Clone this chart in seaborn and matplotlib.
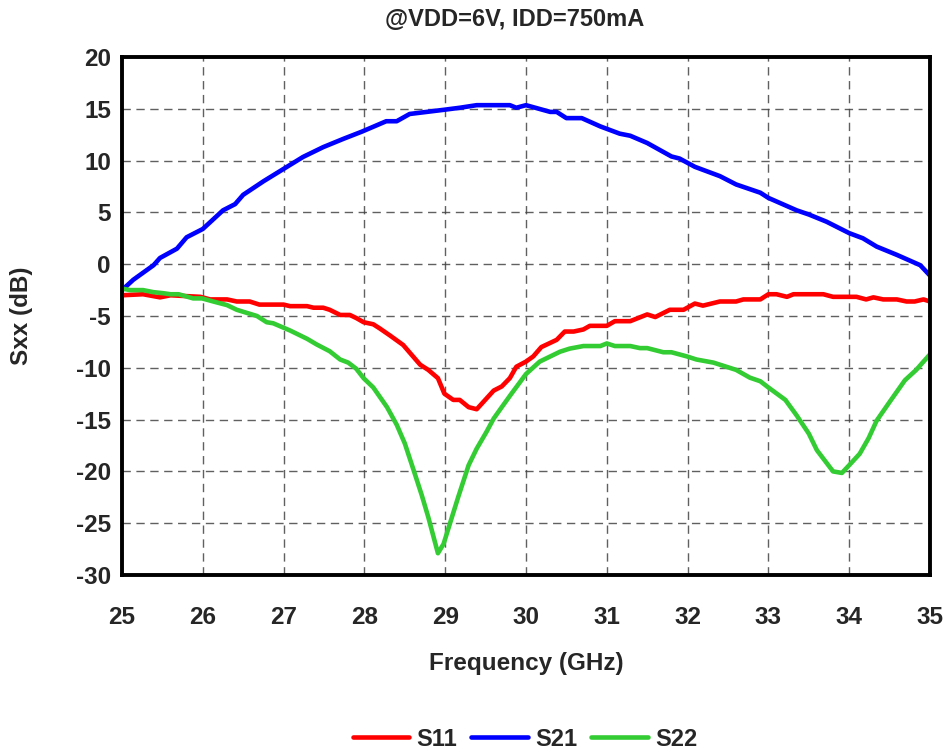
import numpy as np
import pandas as pd
import matplotlib
matplotlib.use("Agg")
import matplotlib.pyplot as plt
import seaborn as sns

title = "@VDD=6V, IDD=750mA"
series_names = ["S11", "S21", "S22"]
series_colors = ["#FF0000", "#0000FF", "#33CC33"]

s21_f = [25.0, 25.14, 25.39, 25.47, 25.68, 25.8, 26.0, 26.25, 26.4, 26.5, 26.75, 27.0, 27.24, 27.49,
         27.74, 27.97, 28.27, 28.4, 28.56, 28.98, 29.18, 29.39, 29.8, 29.88, 30.0, 30.3, 30.38, 30.5,
         30.69, 30.92, 31.16, 31.29, 31.5, 31.8, 31.9, 32.09, 32.4, 32.6, 32.9, 33.0, 33.35, 33.5,
         33.72, 34.0, 34.17, 34.34, 34.59, 34.88, 35.0]
s21_db = [-2.5, -1.5, -0.1, 0.6, 1.5, 2.6, 3.4, 5.2, 5.8, 6.7, 8.0, 9.2, 10.35, 11.3,
          12.1, 12.8, 13.8, 13.8, 14.5, 14.9, 15.1, 15.35, 15.35, 15.1, 15.35, 14.7, 14.7, 14.1,
          14.1, 13.3, 12.6, 12.4, 11.7, 10.4, 10.2, 9.4, 8.5, 7.7, 6.9, 6.4, 5.2, 4.8,
          4.1, 3.0, 2.5, 1.7, 0.9, -0.1, -1.1]

s11_f = [25.0, 25.26, 25.47, 25.6, 25.97, 26.09, 26.3, 26.42, 26.58, 26.7, 27.0, 27.08, 27.29, 27.37,
         27.49, 27.57, 27.7, 27.82, 27.9, 27.99, 28.11, 28.19, 28.32, 28.48, 28.69, 28.79, 28.91, 28.99,
         29.1, 29.18, 29.29, 29.39, 29.6, 29.7, 29.8, 29.88, 30.0, 30.09, 30.19, 30.38, 30.48, 30.59,
         30.71, 30.79, 31.0, 31.1, 31.29, 31.5, 31.6, 31.78, 31.95, 32.09, 32.19, 32.4, 32.6, 32.69,
         32.9, 33.0, 33.1, 33.23, 33.31, 33.68, 33.8, 34.09, 34.21, 34.3, 34.42, 34.59, 34.71, 34.81,
         34.92, 35.0]
s11_db = [-3.0, -2.9, -3.2, -3.0, -3.15, -3.4, -3.4, -3.6, -3.6, -3.9, -3.9, -4.05, -4.05, -4.2,
          -4.2, -4.4, -4.9, -4.9, -5.2, -5.6, -5.8, -6.2, -6.9, -7.8, -9.7, -10.2, -11.0, -12.5,
          -13.1, -13.1, -13.8, -14.0, -12.2, -11.8, -11.0, -9.9, -9.4, -8.9, -8.0, -7.3, -6.5, -6.5,
          -6.3, -5.95, -5.95, -5.5, -5.5, -4.85, -5.1, -4.4, -4.4, -3.8, -4.0, -3.6, -3.6, -3.4,
          -3.4, -2.9, -2.9, -3.15, -2.9, -2.9, -3.15, -3.15, -3.4, -3.2, -3.4, -3.4, -3.6, -3.6,
          -3.4, -3.6]

s22_f = [25.0, 25.1, 25.26, 25.39, 25.51, 25.6, 25.7, 25.88, 25.99, 26.13, 26.3, 26.42, 26.67, 26.79,
         26.87, 27.08, 27.29, 27.41, 27.57, 27.7, 27.8, 27.9, 27.99, 28.11, 28.28, 28.4, 28.5, 28.61,
         28.71, 28.79, 28.91, 28.98, 29.06, 29.16, 29.29, 29.39, 29.51, 29.6, 29.7, 29.82, 30.0, 30.17,
         30.42, 30.54, 30.71, 30.92, 31.0, 31.1, 31.29, 31.41, 31.5, 31.7, 31.8, 31.99, 32.11, 32.32,
         32.6, 32.77, 32.9, 33.0, 33.21, 33.35, 33.5, 33.6, 33.8, 33.91, 34.0, 34.13, 34.24, 34.34,
         34.5, 34.69, 34.83, 34.92, 35.0]
s22_db = [-2.35, -2.5, -2.5, -2.7, -2.8, -2.9, -2.9, -3.3, -3.3, -3.6, -3.95, -4.4, -5.0, -5.6,
          -5.7, -6.4, -7.2, -7.75, -8.4, -9.2, -9.5, -10.1, -11.0, -11.9, -13.8, -15.5, -17.3, -19.9,
          -22.3, -24.4, -27.9, -27.0, -25.0, -22.5, -19.4, -17.8, -16.2, -14.9, -13.8, -12.5, -10.6, -9.4,
          -8.45, -8.15, -7.9, -7.9, -7.65, -7.9, -7.9, -8.1, -8.1, -8.5, -8.5, -8.9, -9.2, -9.5,
          -10.2, -10.95, -11.3, -11.9, -13.1, -14.6, -16.35, -17.95, -20.0, -20.15, -19.4, -18.3, -16.8, -15.1,
          -13.3, -11.2, -10.2, -9.4, -8.7]

x_ticks = [25, 26, 27, 28, 29, 30, 31, 32, 33, 34, 35]
y_ticks = [-30, -25, -20, -15, -10, -5, 0, 5, 10, 15, 20]

df = pd.concat([
    pd.DataFrame({"Frequency": s11_f, "Sxx": s11_db, "Series": "S11"}),
    pd.DataFrame({"Frequency": s21_f, "Sxx": s21_db, "Series": "S21"}),
    pd.DataFrame({"Frequency": s22_f, "Sxx": s22_db, "Series": "S22"}),
], ignore_index=True)

sns.set_style("white")
plt.rcParams["font.family"] = ["Liberation Sans", "DejaVu Sans"]
plt.rcParams["font.weight"] = "bold"

fig = plt.figure(figsize=(9.48, 7.53), dpi=100)
ax = fig.add_axes([0.1287, 0.2364, 0.8523, 0.6879])

sns.lineplot(data=df, x="Frequency", y="Sxx", hue="Series", hue_order=series_names,
             palette=series_colors, linewidth=3.3, ax=ax, sort=False, estimator=None,
             legend=False)

ax.set_xlim(25, 35)
ax.set_ylim(-30, 20)
ax.set_xticks(x_ticks)
ax.set_yticks(y_ticks)
ax.set_xticklabels([str(t) for t in x_ticks], fontsize=17.5, fontweight="bold")
ax.set_yticklabels([str(t) for t in y_ticks], fontsize=17.5, fontweight="bold")
ax.tick_params(axis="both", direction="in", length=5, width=1, color="black")
ax.tick_params(axis="y", pad=8)
ax.tick_params(axis="x", pad=22)

ax.grid(True, color="#444444", linestyle=(0, (6, 4)), linewidth=1.0, alpha=0.85)
ax.set_axisbelow(True)
for s in ax.spines.values():
    s.set_visible(True)
    s.set_color("black")
    s.set_linewidth(2.8)

ax.set_xlabel("Frequency (GHz)", fontsize=17.5, fontweight="bold", va="center")
ax.xaxis.set_label_coords(0.5, -0.17)
ax.set_ylabel("Sxx (dB)", fontsize=17.5, fontweight="bold", va="center")
ax.yaxis.set_label_coords(-0.124, 0.5)
fig.text(515 / 948, 1 - 19 / 753, title, fontsize=17, fontweight="bold",
         ha="center", va="center")

handles = [plt.Line2D([0], [0], color=c, linewidth=3.3) for c in series_colors]
fig.legend(handles, series_names, loc="center", bbox_to_anchor=(525 / 948, 1 - 739 / 753), ncol=3,
           frameon=False, prop={"weight": "bold", "size": 17}, handlelength=2.4,
           handletextpad=0.3, columnspacing=0.6, borderpad=0, borderaxespad=0)

fig.savefig("out.png", dpi=100)
